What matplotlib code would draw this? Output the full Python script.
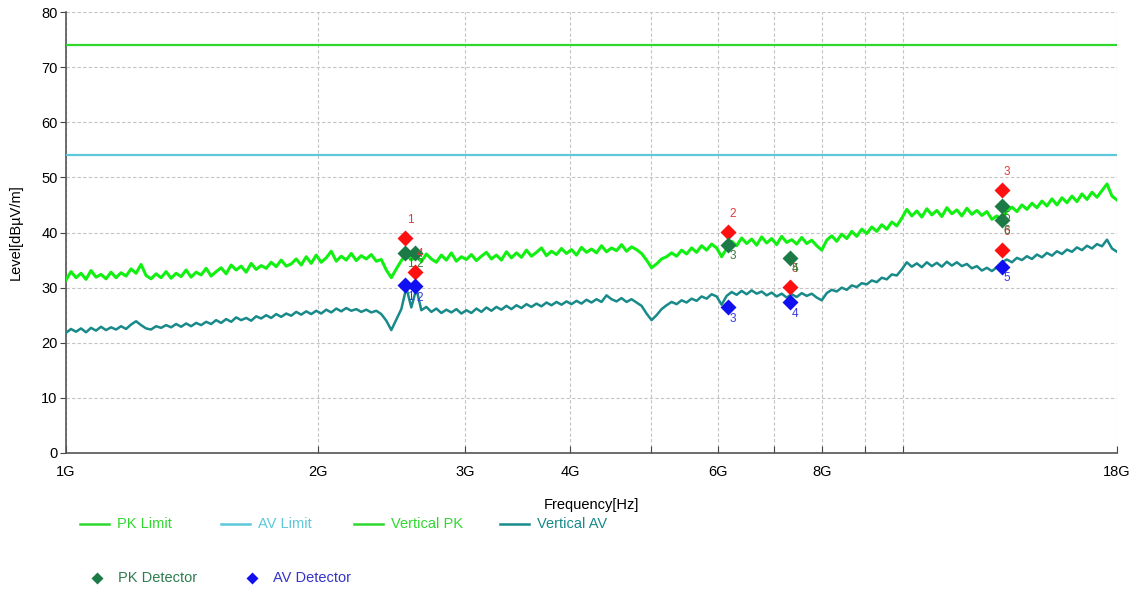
import numpy as np
import matplotlib
matplotlib.use('Agg')
import matplotlib.pyplot as plt
from matplotlib.lines import Line2D

plt.rcParams['font.family'] = ['Liberation Sans', 'DejaVu Sans']

# limits
pk_limit = 74.0
av_limit = 54.0

# sweep readings, one every ~5 px along the log axis (1G..18G)
n_sweep = 211
vertical_pk = [
    31.4, 32.9, 31.8, 32.6, 31.5, 33.1, 31.9, 32.4, 31.6, 32.8,
    31.8, 32.7, 32.1, 33.4, 32.6, 34.2, 32.2, 31.6, 32.5, 31.8,
    32.9, 31.7, 32.6, 32.0, 33.2, 31.9, 32.8, 32.3, 33.5, 32.1,
    32.9, 33.6, 32.5, 34.1, 33.2, 33.9, 32.8, 34.4, 33.3, 34.0,
    33.5, 34.6, 33.8, 35.0, 33.9, 34.3, 35.2, 34.1, 35.6, 34.4,
    35.9, 34.6, 35.4, 36.6, 34.8, 35.7, 35.0, 36.2, 34.9, 35.8,
    35.2, 36.0, 34.8, 35.1, 33.2, 31.8, 33.4, 34.9, 36.2, 35.0,
    35.8, 34.7, 36.1, 35.2, 34.6, 35.9, 35.0, 36.3, 34.8, 35.6,
    35.1, 36.0, 34.9, 35.7, 36.4, 35.2, 35.9, 35.0, 36.5, 35.4,
    36.3, 35.5, 36.8, 35.7, 36.4, 37.2, 35.8, 36.6, 36.0, 37.1,
    36.2, 36.9, 35.9, 37.3, 36.4, 37.0, 36.3, 37.6, 36.5, 37.2,
    36.7, 37.8, 36.6, 37.4, 36.9, 36.2, 35.0, 33.6, 34.3, 35.2,
    35.6, 36.3, 35.7, 36.8, 36.1, 37.2, 36.4, 37.6, 36.8, 37.9,
    37.2, 35.6, 37.1, 38.4, 37.6, 39.0, 38.0, 38.8, 37.7, 39.2,
    38.1, 38.9, 37.8, 39.3, 38.2, 38.7, 37.9, 39.1, 38.0, 38.6,
    37.6, 36.8, 38.6, 39.4, 38.4, 39.7, 38.9, 40.2, 39.3, 40.6,
    39.8, 41.0, 40.2, 41.4, 40.6, 41.9, 41.2, 42.6, 44.2, 43.0,
    43.9, 42.8, 44.3, 43.2, 44.0, 42.9, 44.5, 43.4, 44.1, 43.0,
    44.4, 43.3, 44.0, 43.1, 43.8, 42.4, 43.0, 42.2, 43.9, 44.6,
    43.8, 45.0, 44.2, 45.3, 44.5, 45.7, 44.8, 46.1, 45.0, 46.3,
    45.4, 46.6, 45.6, 47.0, 46.0, 47.3, 46.4, 47.6, 48.8, 46.6, 45.9,
]
vertical_av = [
    21.8, 22.5, 22.0, 22.6, 21.9, 22.7, 22.2, 22.9, 22.3, 22.8,
    22.4, 23.0, 22.5, 23.3, 23.9, 23.2, 22.6, 22.4, 23.0, 22.7,
    23.2, 22.8, 23.4, 22.9, 23.5, 23.0, 23.6, 23.2, 23.8, 23.4,
    24.1, 23.6, 24.3, 23.8, 24.6, 24.1, 24.5, 24.0, 24.8, 24.4,
    25.0, 24.5, 25.2, 24.7, 25.3, 24.9, 25.6, 25.1, 25.7, 25.2,
    25.8, 25.3, 26.0, 25.5, 26.2, 25.7, 26.3, 25.8, 26.1, 25.6,
    26.0, 25.5, 25.8, 25.2, 24.0, 22.3, 24.2, 26.1, 30.0, 26.4,
    29.8, 25.9, 26.5, 25.6, 26.2, 25.4, 26.0, 25.5, 26.1, 25.3,
    25.9, 25.4, 26.2, 25.6, 26.4, 25.8, 26.5, 26.0, 26.7, 26.1,
    26.8, 26.3, 27.0, 26.5, 27.1, 26.6, 27.3, 26.8, 27.4, 26.9,
    27.5, 27.0, 27.6, 27.1, 27.8, 27.3, 27.9, 27.4, 28.6, 27.9,
    27.5, 28.1, 27.4, 27.9, 27.3, 26.7, 25.3, 24.1, 25.0, 26.1,
    26.8, 27.4, 27.0, 27.7, 27.3, 28.0, 27.6, 28.4, 28.0, 28.8,
    28.4, 26.9, 28.5, 29.2, 28.7, 29.4, 28.8, 29.5, 28.9, 29.3,
    28.6, 29.1, 28.4, 28.9, 28.2, 28.8, 28.3, 29.0, 28.5, 28.9,
    28.2, 27.7, 29.0, 29.6, 29.3, 30.0, 29.6, 30.4, 30.1, 30.8,
    30.6, 31.3, 31.0, 31.8, 31.5, 32.4, 32.2, 33.3, 34.6, 33.8,
    34.4, 33.7, 34.6, 33.9, 34.5, 33.8, 34.7, 34.0, 34.6, 33.9,
    34.3, 33.5, 33.9, 33.1, 33.6, 33.0, 33.7, 34.6, 35.1, 34.6,
    35.4, 35.0, 35.7, 35.2, 36.0, 35.5, 36.3, 35.8, 36.6, 36.1,
    36.9, 36.5, 37.3, 36.8, 37.6, 37.1, 37.9, 37.5, 38.7, 37.1, 36.5,
]

# final measurement points (GHz, dBuV/m)
peak_freq = [2.54, 6.17, 13.12, 2.61, 7.32, 13.12]
peak_level = [39.0, 40.1, 47.7, 32.8, 30.1, 36.8]
pk_det_freq = [2.54, 2.61, 6.17, 7.32, 13.12, 13.12]
pk_det_level = [36.3, 36.3, 37.7, 35.4, 44.8, 42.3]
av_det_freq = [2.54, 2.61, 6.17, 7.32, 13.12]
av_det_level = [30.5, 30.3, 26.5, 27.4, 33.8]

x_ticks = [1, 2, 3, 4, 5, 6, 7, 8, 9, 10, 18]
x_labels = ['1G', '2G', '3G', '4G', '', '6G', '', '8G', '', '', '18G']
y_ticks = [0, 10, 20, 30, 40, 50, 60, 70, 80]

c_pk_lim = '#2ED82E'
c_av_lim = '#5CC8DA'
c_pk = '#12F012'
c_av = '#198A8A'
c_red = '#FF1010'
c_grn = '#1B7A45'
c_blu = '#1010F0'

freq = np.geomspace(1, 18, n_sweep)

fig = plt.figure(figsize=(11.38, 5.90), dpi=100)
ax = fig.add_axes([66/1138, 1-453/590, 1051/1138, 441/590])

ax.axhline(pk_limit, color=c_pk_lim, lw=1.6, zorder=3)
ax.axhline(av_limit, color=c_av_lim, lw=1.6, zorder=3)
ax.plot(freq, vertical_pk, color=c_pk, lw=2.2, zorder=4)
ax.plot(freq, vertical_av, color=c_av, lw=1.8, zorder=4)

ax.plot(peak_freq, peak_level, 'D', color=c_red, ms=8.5, mec='none', zorder=6)
ax.plot(pk_det_freq, pk_det_level, 'D', color=c_grn, ms=8.5, mec='none', zorder=6)
ax.plot(av_det_freq, av_det_level, 'D', color=c_blu, ms=8.5, mec='none', zorder=6)

# number labels: red above-right, detectors below-right
for i, (f, v) in enumerate(zip(peak_freq, peak_level)):
    ax.annotate(str(i+1), (f, v), xytext=(3.6, 13), textcoords='offset points',
                ha='center', va='center', fontsize=8.5, color='#E23A3A', zorder=7)
for i, (f, v) in enumerate(zip(pk_det_freq, pk_det_level)):
    ax.annotate(str(i+1), (f, v), xytext=(3.6, -8), textcoords='offset points',
                ha='center', va='center', fontsize=8.5, color='#3D7A3D', zorder=7)
for i, (f, v) in enumerate(zip(av_det_freq, av_det_level)):
    ax.annotate(str(i+1), (f, v), xytext=(3.6, -8.5), textcoords='offset points',
                ha='center', va='center', fontsize=8.5, color='#3838E0', zorder=7)

ax.set_xscale('log')
ax.set_xlim(1, 18)
ax.set_ylim(0, 80)
ax.set_xticks(x_ticks)
ax.set_xticklabels(x_labels)
ax.xaxis.set_minor_locator(matplotlib.ticker.NullLocator())
ax.set_yticks(y_ticks)
ax.tick_params(axis='x', direction='in', length=5, pad=9, labelsize=10.5, color='#444444')
ax.tick_params(axis='y', direction='out', length=4, pad=2, labelsize=10.5, color='#444444')
ax.grid(True, color='#C4C4C4', ls=(0, (3, 2)), lw=0.8)
for s in ['top', 'right']:
    ax.spines[s].set_visible(False)
for s in ['left', 'bottom']:
    ax.spines[s].set_color('#555555')
    ax.spines[s].set_linewidth(1.2)

fig.text(591/1138, 1-505/590, 'Frequency[Hz]', ha='center', va='center', fontsize=10.5)
fig.text(16/1138, 1-232/590, 'Level[dBµV/m]', ha='center', va='center',
         rotation=90, fontsize=10.5)

# legend, drawn by hand in pixel positions
def px(x, y):
    return x/1138, 1-y/590

row1 = [('PK Limit', c_pk_lim, 80), ('AV Limit', c_av_lim, 221),
        ('Vertical PK', c_pk_lim, 354), ('Vertical AV', c_av, 500)]
for name, col, x0 in row1:
    (xa, ya), (xb, yb) = px(x0, 524), px(x0+29, 524)
    fig.add_artist(Line2D([xa, xb], [ya, yb], color=col, lw=1.8))
    fig.text(*px(x0+37, 524), name, color=col, ha='left', va='center', fontsize=10.5)

row2 = [('PK Detector', c_grn, '#2E7D50', 97), ('AV Detector', c_blu, '#3434C8', 252)]
for name, col, tcol, x0 in row2:
    xa, ya = px(x0, 578)
    fig.add_artist(Line2D([xa], [ya], marker='D', color=col, ms=6, mec='none', ls='none'))
    fig.text(*px(x0+21, 578), name, color=tcol, ha='left', va='center', fontsize=10.5)

fig.savefig('out.png', dpi=100)
